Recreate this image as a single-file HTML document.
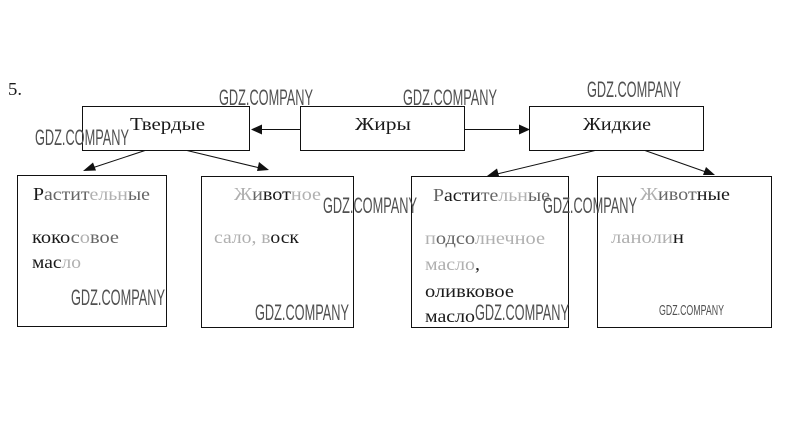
<!DOCTYPE html>
<html><head><meta charset="utf-8"><style>
html,body{margin:0;padding:0;background:#fff;width:808px;height:430px;overflow:hidden}
svg{display:block}
.t{font-family:"Liberation Serif",serif;font-size:17.5px;fill:#1a1a1a}
.g{font-family:"Liberation Sans",sans-serif;font-size:22.5px;fill:#505050}
.f{fill:#b0b0b0}.m{fill:#666}
rect{fill:none;stroke:#111;stroke-width:1}
line{stroke:#111;stroke-width:1}
polygon{fill:#111}
</style></head><body>
<svg width="808" height="430" viewBox="0 0 808 430" xmlns="http://www.w3.org/2000/svg">
<rect x="82.5" y="106.5" width="167" height="44"/>
<rect x="300.5" y="106.5" width="164" height="44"/>
<rect x="529.5" y="106.5" width="174" height="44"/>
<rect x="17.5" y="175.5" width="149" height="151"/>
<rect x="201.5" y="176.5" width="152" height="151"/>
<rect x="411.5" y="176.5" width="157" height="151"/>
<rect x="597.5" y="176.5" width="174" height="151"/>
<line x1="300" y1="129.5" x2="258" y2="129.5"/><polygon points="251,129.5 262,124.5 262,134.5"/>
<line x1="465" y1="129.5" x2="522" y2="129.5"/><polygon points="530,129.5 519,124.5 519,134.5"/>
<line x1="145" y1="150.5" x2="92" y2="168"/><polygon points="83,171 93,162.5 96,170.5"/>
<line x1="187" y1="150.5" x2="260" y2="168"/><polygon points="269,170 257,171 259,162"/>
<line x1="595" y1="150.5" x2="497" y2="174"/><polygon points="487,176 497,168.5 499,176"/>
<line x1="645" y1="150.5" x2="706" y2="172"/><polygon points="715,175 703,175 706,167"/>
<text class="t" x="8" y="95" textLength="14" lengthAdjust="spacingAndGlyphs">5.</text>
<text class="t" x="130" y="130" textLength="75" lengthAdjust="spacingAndGlyphs">Твердые</text>
<text class="t" x="355" y="130" textLength="56" lengthAdjust="spacingAndGlyphs">Жиры</text>
<text class="t" x="583" y="130" textLength="68" lengthAdjust="spacingAndGlyphs">Жидкие</text>
<text class="t" x="33" y="200" textLength="117" lengthAdjust="spacingAndGlyphs">Р<tspan class="m">астит</tspan><tspan class="f">ельн</tspan><tspan class="m">ые</tspan></text>
<text class="t" x="32" y="243" textLength="87" lengthAdjust="spacingAndGlyphs">коко<tspan class="m">с</tspan><tspan class="f">о</tspan><tspan class="m">вое</tspan></text>
<text class="t" x="32" y="268" textLength="49" lengthAdjust="spacingAndGlyphs">мас<tspan class="f">ло</tspan></text>
<text class="t" x="234" y="200" textLength="87" lengthAdjust="spacingAndGlyphs"><tspan class="f">Ж</tspan><tspan class="m">и</tspan>вот<tspan class="f">ное</tspan></text>
<text class="t" x="214" y="243" textLength="85" lengthAdjust="spacingAndGlyphs"><tspan class="f">сало, в</tspan>оск</text>
<text class="t" x="433" y="201" textLength="117" lengthAdjust="spacingAndGlyphs"><tspan class="m">Р</tspan>асти<tspan class="m">те</tspan><tspan class="f">льн</tspan><tspan class="m">ые</tspan></text>
<text class="t" x="425" y="244" textLength="120" lengthAdjust="spacingAndGlyphs"><tspan class="f">п</tspan><tspan class="m">одсо</tspan><tspan class="f">лнечное</tspan></text>
<text class="t" x="425" y="270" textLength="55" lengthAdjust="spacingAndGlyphs"><tspan class="f">масло</tspan>,</text>
<text class="t" x="425" y="297" textLength="89" lengthAdjust="spacingAndGlyphs">оливковое</text>
<text class="t" x="425" y="322" textLength="50" lengthAdjust="spacingAndGlyphs">масло</text>
<text class="t" x="640" y="200" textLength="90" lengthAdjust="spacingAndGlyphs"><tspan class="f">Ж</tspan><tspan class="m">ивот</tspan>ные</text>
<text class="t" x="611" y="243" textLength="73" lengthAdjust="spacingAndGlyphs"><tspan class="f">ланоли</tspan>н</text>
<text class="g" x="219" y="105" textLength="94" lengthAdjust="spacingAndGlyphs">GDZ.COMPANY</text>
<text class="g" x="403" y="105" textLength="94" lengthAdjust="spacingAndGlyphs">GDZ.COMPANY</text>
<text class="g" x="587" y="97" textLength="94" lengthAdjust="spacingAndGlyphs">GDZ.COMPANY</text>
<text class="g" x="35" y="145" textLength="94" lengthAdjust="spacingAndGlyphs">GDZ.COMPANY</text>
<text class="g" x="323" y="213" textLength="94" lengthAdjust="spacingAndGlyphs">GDZ.COMPANY</text>
<text class="g" x="543" y="213" textLength="94" lengthAdjust="spacingAndGlyphs">GDZ.COMPANY</text>
<text class="g" x="71" y="305" textLength="94" lengthAdjust="spacingAndGlyphs">GDZ.COMPANY</text>
<text class="g" x="255" y="320" textLength="94" lengthAdjust="spacingAndGlyphs">GDZ.COMPANY</text>
<text class="g" x="475" y="320" textLength="94" lengthAdjust="spacingAndGlyphs">GDZ.COMPANY</text>
<text class="g" x="659" y="315" textLength="65" lengthAdjust="spacingAndGlyphs" style="font-size:15px">GDZ.COMPANY</text>
</svg>
</body></html>
